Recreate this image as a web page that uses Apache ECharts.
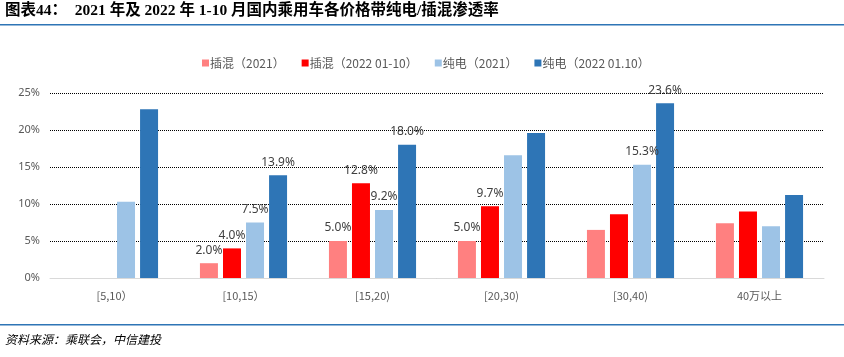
<!DOCTYPE html>
<html><head><meta charset="utf-8">
<script src="https://cdn.jsdelivr.net/npm/echarts@6/dist/echarts.min.js"></script>
<style>html,body{margin:0;padding:0;background:#fff}#c{width:844px;height:357px}</style>
</head><body><div id="c"></div>
<script>
var categories = ['[5,10）', '[10,15）', '[15,20)', '[20,30)', '[30,40)', '40万以上'];
var seriesNames = ['插混（2021）', '插混（2022 01-10）', '纯电（2021）', '纯电（2022 01.10）'];
var phev2021 = [0, 2.0, 5.0, 5.0, 6.5, 7.4];
var phev2022 = [0, 4.0, 12.8, 9.7, 8.6, 9.0];
var bev2021 = [10.3, 7.5, 9.2, 16.6, 15.3, 7.0];
var bev2022 = [22.8, 13.9, 18.0, 19.6, 23.6, 11.2];
var phev2021Label = [false, true, true, true, false, false];
var phev2022Label = [false, true, true, true, false, false];
var bev2021Label = [false, true, true, false, true, false];
var bev2022Label = [false, true, true, false, true, false];
var yTicks = [0, 5, 10, 15, 20, 25];

var colors = ['#FF8080', '#FF0000', '#9DC3E6', '#2E75B6'];
var values = [phev2021, phev2022, bev2021, bev2022];
var labelFlags = [phev2021Label, phev2022Label, bev2021Label, bev2022Label];

var series = values.map(function (vals, i) {
  return {
    name: seriesNames[i],
    type: 'bar',
    barWidth: 18,
    barGap: '28%',
    itemStyle: { color: colors[i] },
    label: {
      show: false, position: 'top', distance: 7,
      color: '#404040', fontSize: 12, fontFamily: 'Noto Sans',
      formatter: function (p) { return p.value.toFixed(1) + '%'; }
    },
    data: vals.map(function (v, j) {
      return { value: v, label: { show: labelFlags[i][j] } };
    })
  };
});

var chart = echarts.init(document.getElementById('c'), null, { renderer: 'canvas' });
chart.setOption({
  animation: false,
  backgroundColor: '#fff',
  legend: {
    top: 52, left: 197,
    itemWidth: 7, itemHeight: 7, itemGap: 17,
    icon: 'rect',
    textStyle: { color: '#595959', fontSize: 12, fontFamily: 'Noto Sans CJK SC', padding: [0, 0, 0, -4] },
    data: seriesNames
  },
  grid: { left: 50, right: 20, top: 93, bottom: 79 },
  xAxis: {
    type: 'category',
    data: categories,
    axisLine: { lineStyle: { color: '#D9D9D9', width: 1 } },
    axisTick: { show: false },
    axisLabel: { color: '#595959', fontSize: 11, fontFamily: 'Noto Sans CJK SC', margin: 12 }
  },
  yAxis: {
    type: 'value',
    min: yTicks[0], max: yTicks[yTicks.length - 1], interval: 5,
    axisLine: { show: false },
    axisTick: { show: false },
    axisLabel: { color: '#595959', fontSize: 11, fontFamily: 'Noto Sans', formatter: '{value}%', margin: 10 },
    splitLine: { lineStyle: { color: '#000', type: [1, 1], width: 1 } }
  },
  series: series,
  graphic: [
    { type: 'text', left: 5, top: 3, style: { text: '图表44：  2021 年及 2022 年 1-10 月国内乘用车各价格带纯电/插混渗透率', fill: '#000', font: 'bold 15.5px "Liberation Serif", "Noto Sans CJK SC"' } },
    { type: 'rect', shape: { x: 0, y: 24, width: 844, height: 1.5 }, style: { fill: '#2E75B6' } },
    { type: 'rect', shape: { x: 0, y: 324, width: 844, height: 1.5 }, style: { fill: '#2E75B6' } },
    { type: 'text', left: 5, top: 333, style: { text: '资料来源：乘联会，中信建投', fill: '#000', font: 'italic 12px "Noto Sans CJK SC"' } }
  ]
});
</script></body></html>
